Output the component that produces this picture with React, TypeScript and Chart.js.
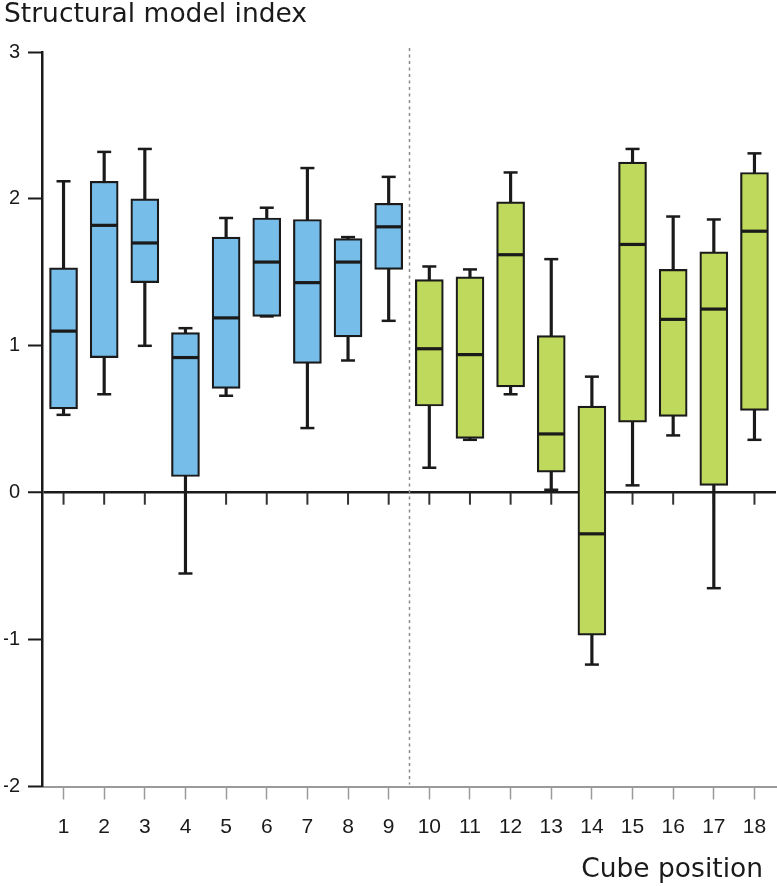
import React, { useEffect, useRef } from 'react';
import { Chart, registerables } from 'chart.js';

Chart.register(...registerables);

// ---- data ----
const positions = [1, 2, 3, 4, 5, 6, 7, 8, 9, 10, 11, 12, 13, 14, 15, 16, 17, 18];
const tickLabels = ['1', '2', '3', '4', '5', '6', '7', '8', '9', '10', '11', '12', '13', '14', '15', '16', '17', '18'];
const whiskerLow = [0.53, 0.67, 1.0, -0.55, 0.66, 1.2, 0.44, 0.9, 1.17, 0.17, 0.36, 0.67, 0.02, -1.17, 0.05, 0.39, -0.65, 0.36];
const quartile1 = [0.57, 0.92, 1.43, 0.11, 0.71, 1.2, 0.88, 1.06, 1.52, 0.59, 0.37, 0.72, 0.14, -0.97, 0.48, 0.52, 0.05, 0.56];
const medians = [1.1, 1.82, 1.7, 0.92, 1.19, 1.57, 1.43, 1.57, 1.81, 0.98, 0.94, 1.62, 0.4, -0.28, 1.69, 1.18, 1.25, 1.78];
const quartile3 = [1.53, 2.12, 2.0, 1.09, 1.74, 1.87, 1.86, 1.73, 1.97, 1.45, 1.47, 1.98, 1.07, 0.59, 2.25, 1.52, 1.64, 2.18];
const whiskerHigh = [2.12, 2.32, 2.34, 1.12, 1.87, 1.94, 2.21, 1.74, 2.15, 1.54, 1.52, 2.18, 1.59, 0.79, 2.34, 1.88, 1.86, 2.31];
const groups = ['A', 'A', 'A', 'A', 'A', 'A', 'A', 'A', 'A', 'B', 'B', 'B', 'B', 'B', 'B', 'B', 'B', 'B'];
const yTickValues = [-2, -1, 0, 1, 2, 3];
const groupDivider = 9.5;
const yTitle = 'Structural model index';
const xTitle = 'Cube position';

const groupColor: Record<string, string> = { A: '#77bdea', B: '#bed95c' };
const ink = '#1a1a1a';
const labelFont = 'Liberation Sans, Arial, Helvetica, sans-serif';

const boxPlugin = {
  id: 'boxExtras',
  beforeDatasetsDraw(chart: any) {
    const { ctx, chartArea } = chart;
    const xs = chart.scales.x;
    const ys = chart.scales.y;
    ctx.save();
    // group divider
    const dx = Math.round(xs.getPixelForValue(groupDivider)) + 0.5;
    ctx.strokeStyle = '#8a8a8a';
    ctx.lineWidth = 1.5;
    ctx.setLineDash([3, 3.5]);
    ctx.beginPath();
    ctx.moveTo(dx, chartArea.top - 4);
    ctx.lineTo(dx, chartArea.bottom - 2);
    ctx.stroke();
    ctx.setLineDash([]);
    // ticks below zero line
    const y0 = ys.getPixelForValue(0);
    ctx.strokeStyle = '#333';
    ctx.lineWidth = 2;
    positions.forEach((p) => {
      const px = xs.getPixelForValue(p);
      ctx.beginPath();
      ctx.moveTo(px, y0);
      ctx.lineTo(px, y0 + 12);
      ctx.stroke();
    });
    ctx.restore();
  },
  afterDatasetsDraw(chart: any) {
    const { ctx } = chart;
    const xs = chart.scales.x;
    const ys = chart.scales.y;
    ctx.save();
    ctx.strokeStyle = ink;
    positions.forEach((p, i) => {
      const px = xs.getPixelForValue(p);
      // median
      ctx.lineWidth = 3.2;
      const ym = ys.getPixelForValue(medians[i]);
      ctx.beginPath();
      ctx.moveTo(px - 13, ym);
      ctx.lineTo(px + 13, ym);
      ctx.stroke();
      // caps
      ctx.lineWidth = 2.5;
      [whiskerLow[i], whiskerHigh[i]].forEach((v) => {
        const yy = ys.getPixelForValue(v);
        ctx.beginPath();
        ctx.moveTo(px - 7, yy);
        ctx.lineTo(px + 7, yy);
        ctx.stroke();
      });
    });
    ctx.restore();
  },
  afterDraw(chart: any) {
    const { ctx, chartArea } = chart;
    ctx.save();
    ctx.fillStyle = ink;
    ctx.font = '26.5px "DejaVu Sans"';
    ctx.textAlign = 'right';
    ctx.textBaseline = 'alphabetic';
    ctx.fillText(xTitle, chartArea.right - 13, 877);
    ctx.restore();
  },
};

export default function App() {
  const canvasRef = useRef<HTMLCanvasElement | null>(null);

  useEffect(() => {
    document.body.style.margin = '0';
    const canvas = canvasRef.current;
    if (!canvas) return;
    const chart = new Chart(canvas, {
      type: 'bar',
      data: {
        datasets: [
          {
            label: 'whiskers',
            data: positions.map((x, i) => ({ x, y: [whiskerLow[i], whiskerHigh[i]] })) as any,
            backgroundColor: ink,
            borderWidth: 0,
            barThickness: 2.5,
            grouped: false,
            order: 2,
          },
          {
            label: 'boxes',
            data: positions.map((x, i) => ({ x, y: [quartile1[i], quartile3[i]] })) as any,
            backgroundColor: groups.map((g) => groupColor[g]),
            borderColor: ink,
            borderWidth: 2.2,
            borderSkipped: false,
            barThickness: 28,
            grouped: false,
            order: 1,
          },
        ],
      },
      options: {
        animation: false,
        responsive: false,
        devicePixelRatio: 1,
        layout: { padding: { left: 4, right: 1, top: 0, bottom: 0 } },
        plugins: {
          legend: { display: false },
          tooltip: { enabled: false },
          title: {
            display: true,
            text: yTitle,
            align: 'start',
            color: ink,
            font: { family: '"DejaVu Sans"', size: 26.5, weight: 'normal', lineHeight: 1 },
            padding: { top: 1.5, bottom: 24 },
          },
        },
        scales: {
          x: {
            type: 'linear',
            offset: false,
            min: 0.47,
            max: 18.53,
            afterBuildTicks: (scale: any) => {
              scale.ticks = positions.map((v) => ({ value: v }));
            },
            afterFit: (scale: any) => {
              scale.height = 99.5;
              scale.paddingLeft = 0;
              scale.paddingRight = 0;
            },
            ticks: {
              autoSkip: false,
              maxRotation: 0,
              color: ink,
              padding: 15,
              font: { family: labelFont, size: 21 },
              callback: (v: any) => {
                const idx = positions.indexOf(Number(v));
                return idx >= 0 ? tickLabels[idx] : '';
              },
            },
            grid: {
              offset: false,
              drawOnChartArea: false,
              drawTicks: true,
              tickLength: 13,
              tickColor: '#9a9a9a',
              tickWidth: 1.5,
            },
            border: { color: '#9a9a9a', width: 2 },
          },
          y: {
            type: 'linear',
            min: -2,
            max: 3,
            afterBuildTicks: (scale: any) => {
              scale.ticks = yTickValues.map((v) => ({ value: v }));
            },
            afterFit: (scale: any) => {
              scale.width = 38;
            },
            ticks: {
              color: ink,
              padding: 8,
              font: { family: labelFont, size: 20 },
              callback: (v: any) => String(v),
            },
            grid: {
              drawOnChartArea: true,
              drawTicks: true,
              tickLength: 14,
              tickColor: ink,
              tickWidth: 2,
              color: (c: any) => (c.tick && c.tick.value === 0 ? ink : 'rgba(0,0,0,0)'),
              lineWidth: (c: any) => (c.tick && c.tick.value === 0 ? 2.5 : 1),
            },
            border: { color: ink, width: 2.5 },
          },
        },
      },
      plugins: [boxPlugin],
    });
    return () => chart.destroy();
  }, []);

  return (
    <div style={{ width: 777, height: 886, position: 'relative' }}>
      <canvas ref={canvasRef} width={777} height={886} />
    </div>
  );
}
